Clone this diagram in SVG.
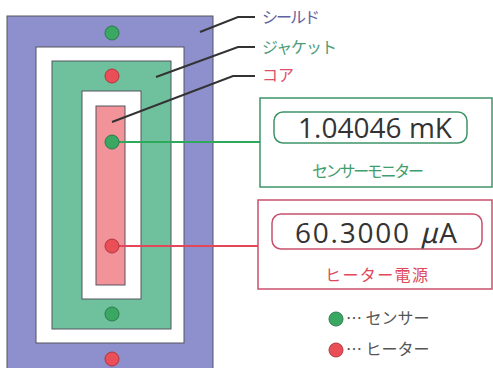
<svg xmlns="http://www.w3.org/2000/svg" width="493" height="368" viewBox="0 0 493 368">
<style>
.lay{stroke:#55555f;stroke-width:1}
.dot{stroke-width:1}
.sen{fill:#3aa863;stroke:#2c7a4a}
.hea{fill:#ea4f58;stroke:#b0363f}
.lbl{font-family:"Noto Sans CJK JP","Noto Sans",sans-serif;font-size:16px}
.big{font-family:"Open Sans","Liberation Sans",sans-serif;font-size:28px;fill:#333}
.lead{fill:none;stroke:#333;stroke-width:2}
</style>
<rect width="493" height="368" fill="#fff"/>
<g id="shield">
<rect class="lay" x="7" y="16" width="206" height="360" fill="#8e8fcd"/>
<rect class="lay" x="36" y="47" width="148" height="296" fill="#fff"/>
</g>
<g id="jacket">
<rect class="lay" x="52" y="61" width="119" height="268" fill="#6fc19e"/>
<rect class="lay" x="82" y="91" width="59" height="208" fill="#fff"/>
</g>
<g id="core">
<rect class="lay" x="96" y="106" width="29" height="179" fill="#f2939a"/>
</g>
<g id="connectors">
<polyline class="lead" points="200,32 238,17 255,17"/>
<polyline class="lead" points="156,77 238,47 255,47"/>
<polyline class="lead" points="112,122 233,76 255,76"/>
<line x1="112" y1="142" x2="260" y2="142" stroke="#2ea85a" stroke-width="2"/>
<line x1="112" y1="246" x2="258" y2="246" stroke="#e4475a" stroke-width="2"/>
</g>
<g id="dots">
<circle class="dot sen" cx="112" cy="33" r="7"/>
<circle class="dot hea" cx="112" cy="76" r="7"/>
<circle class="dot sen" cx="112" cy="142" r="7"/>
<circle class="dot hea" cx="112" cy="246" r="7"/>
<circle class="dot sen" cx="112" cy="314" r="7"/>
<circle class="dot hea" cx="112" cy="359" r="7"/>
</g>
<g id="labels">
<text class="lbl" x="262" y="23" fill="#5f61a0" textLength="58">シールド</text>
<text class="lbl" x="262" y="53" fill="#4c9c78" textLength="75">ジャケット</text>
<text class="lbl" x="262" y="81" fill="#e0506a">コア</text>
</g>
<g id="sensor-monitor">
<rect x="260" y="98" width="232" height="89" fill="#fff" stroke="#3d9468" stroke-width="1.5"/>
<rect x="274" y="112" width="193" height="31" rx="9" fill="#fff" stroke="#3d9468" stroke-width="1.5"/>
<text class="big" x="298" y="138" textLength="154">1.04046 mK</text>
<text class="lbl" x="312" y="177" fill="#3f9e6c" textLength="112">センサーモニター</text>
</g>
<g id="heater-power">
<rect x="258" y="200" width="234" height="89" fill="#fff" stroke="#c9506c" stroke-width="1.5"/>
<rect x="272" y="214" width="210" height="35" rx="9" fill="#fff" stroke="#c9506c" stroke-width="1.5"/>
<text class="big" x="295" y="243" font-size="29" textLength="162">60.3000 <tspan font-family="Noto Sans CJK JP" font-style="italic">μ</tspan>A</text>
<text class="lbl" x="325" y="281" fill="#e0485a" textLength="103">ヒーター電源</text>
</g>
<g id="legend">
<circle class="dot sen" cx="336" cy="319" r="7"/>
<text class="lbl" x="346" y="324" fill="#555">… センサー</text>
<circle class="dot hea" cx="336" cy="350" r="7"/>
<text class="lbl" x="346" y="355" fill="#555">… ヒーター</text>
</g>
</svg>
